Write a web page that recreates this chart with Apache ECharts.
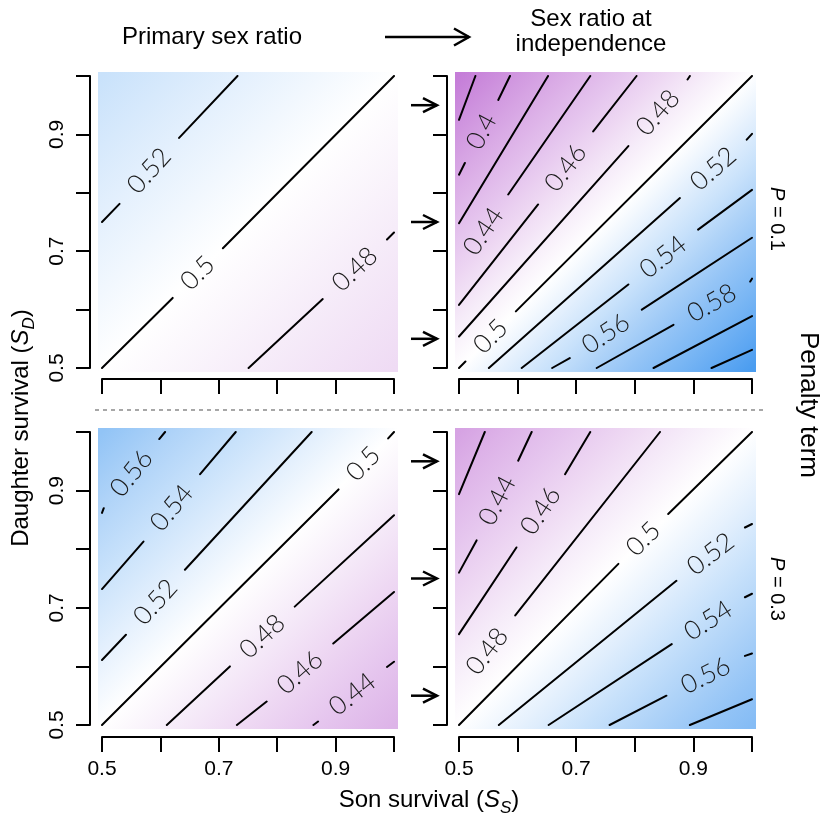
<!DOCTYPE html>
<html>
<head>
<meta charset="UTF-8">
<title>Sex ratio at independence</title>
<style>
    html,body{margin:0;padding:0;background:#fff;}
    #wrap{width:824px;height:818px;}
</style>
</head>
<body>
<div id="wrap"></div>
<script src="https://cdn.jsdelivr.net/npm/echarts@6/dist/echarts.min.js"></script>
<script>
    // contour levels, line ends [x1, y1, x2, y2] and label gaps [x1, y1, x2, y2] (null = no label)
    let levels1 = [0.52, 0.5, 0.48];
    let lines1 = [[0.5, 0.75, 0.732, 1.0], [0.5, 0.5, 1.0, 1.0], [0.751, 0.5, 1.0, 0.732]];
    let gaps1 = [[0.530, 0.781, 0.632, 0.894], [0.621, 0.620, 0.707, 0.705], [0.878, 0.618, 0.988, 0.720]];
    let corners1 = [0.54, 0.463];

    let levels2 = [0.38, 0.4, 0.42, 0.44, 0.46, 0.48, 0.5, 0.52, 0.54, 0.56, 0.58, 0.6, 0.62];
    let lines2 = [
        [0.5, 0.925, 0.528, 1.0], [0.5, 0.831, 0.587, 1.0], [0.5, 0.748, 0.652, 1.0],
        [0.5, 0.671, 0.724, 1.0], [0.5, 0.608, 0.803, 1.0], [0.5, 0.554, 0.894, 1.0],
        [0.5, 0.5, 1.0, 1.0], [0.551, 0.5, 1.0, 0.901], [0.607, 0.5, 1.0, 0.805],
        [0.659, 0.5, 1.0, 0.723], [0.735, 0.5, 1.0, 0.653], [0.832, 0.5, 1.0, 0.589],
        [0.931, 0.5, 1.0, 0.531]
    ];
    let gaps2 = [
        null, [0.510, 0.851, 0.567, 0.959], null,
        [0.5, 0.671, 0.584, 0.797], [0.635, 0.780, 0.729, 0.905], [0.789, 0.880, 0.890, 0.994],
        [0.511, 0.511, 0.597, 0.597], [0.877, 0.791, 0.991, 0.891], [0.789, 0.643, 0.908, 0.737],
        [0.689, 0.517, 0.812, 0.600], [0.866, 0.574, 0.997, 0.648], null, null
    ];
    let corners2 = [0.364, 0.634];

    let levels3 = [0.56, 0.54, 0.52, 0.5, 0.48, 0.46, 0.44];
    let lines3 = [
        [0.5, 0.862, 0.608, 1.0], [0.5, 0.732, 0.729, 1.0], [0.5, 0.611, 0.859, 1.0],
        [0.5, 0.5, 1.0, 1.0], [0.611, 0.5, 1.0, 0.858], [0.731, 0.5, 1.0, 0.727],
        [0.862, 0.5, 1.0, 0.608]
    ];
    let gaps3 = [
        [0.503, 0.870, 0.598, 0.988], [0.571, 0.813, 0.668, 0.928], [0.541, 0.654, 0.642, 0.765],
        [0.905, 0.902, 0.990, 0.989], [0.719, 0.600, 0.830, 0.702], [0.782, 0.540, 0.896, 0.639],
        [0.870, 0.506, 0.988, 0.599]
    ];
    let corners3 = [0.581, 0.422];

    let levels4 = [0.42, 0.44, 0.46, 0.48, 0.5, 0.52, 0.54, 0.56, 0.58];
    let lines4 = [
        [0.5, 0.894, 0.544, 1.0], [0.5, 0.760, 0.624, 1.0], [0.5, 0.655, 0.724, 1.0],
        [0.5, 0.564, 0.843, 1.0], [0.5, 0.5, 1.0, 1.0], [0.568, 0.5, 1.0, 0.843],
        [0.653, 0.5, 1.0, 0.724], [0.757, 0.5, 1.0, 0.622], [0.894, 0.5, 1.0, 0.544]
    ];
    let gaps4 = [
        null, [0.530, 0.815, 0.601, 0.951], [0.598, 0.803, 0.681, 0.928],
        [0.5, 0.564, 0.596, 0.687], [0.772, 0.775, 0.857, 0.860], [0.871, 0.746, 0.988, 0.837],
        [0.863, 0.638, 0.988, 0.718], [0.854, 0.550, 0.988, 0.618], null
    ];
    let corners4 = [0.404, 0.591];

    let arrowYs = [0.95, 0.75, 0.55];
    let tickLabels = ['0.5', '0.7', '0.9'];

    let panels = [
        {levels: levels1, lines: lines1, gaps: gaps1, corners: corners1},
        {levels: levels2, lines: lines2, gaps: gaps2, corners: corners2},
        {levels: levels3, lines: lines3, gaps: gaps3, corners: corners3},
        {levels: levels4, lines: lines4, gaps: gaps4, corners: corners4}
    ];

    let font = '"Liberation Sans", Arial, Helvetica, sans-serif';
    let labelFont = '300 26px Lato, "DejaVu Sans", sans-serif';

    function fillColor(v) {
        let d = Math.max(-1, Math.min(1, (v - 0.5) / 0.135));
        let c = d < 0 ? [197, 125, 216] : [74, 156, 240];
        let k = Math.abs(d);
        return 'rgb(' + c.map(ch => Math.round(255 + (ch - 255) * k)).join(',') + ')';
    }

    // 0 at the top-left corner, 1 at the bottom-right corner
    function diagPos(x, y) {
        return ((x - 0.5) / 0.5 + (1 - y) / 0.5) / 2;
    }

    let grids = [
        {left: 102, top: 76, width: 292, height: 292},
        {left: 459, top: 76, width: 293, height: 292},
        {left: 102, top: 432, width: 292, height: 293},
        {left: 459, top: 432, width: 293, height: 293}
    ];

    let xAxes = [], yAxes = [], series = [];

    panels.forEach((p, i) => {
        xAxes.push({
            gridIndex: i, type: 'value', min: 0.5, max: 1.0, interval: 0.1,
            offset: i < 2 ? 11 : 12,
            axisLine: {onZero: false, lineStyle: {color: '#000', width: 2}},
            axisTick: {length: 15, lineStyle: {color: '#000', width: 2}},
            axisLabel: {
                show: i >= 2, margin: 22, color: '#000', fontSize: 21, fontFamily: font,
                formatter: v => tickLabels.includes(v.toFixed(1)) ? v.toFixed(1) : ''
            },
            splitLine: {show: false}
        });
        yAxes.push({
            gridIndex: i, type: 'value', min: 0.5, max: 1.0, interval: 0.1,
            offset: 12,
            axisLine: {onZero: false, lineStyle: {color: '#000', width: 2}},
            axisTick: {length: 14, lineStyle: {color: '#000', width: 2}},
            axisLabel: {
                show: i % 2 === 0, rotate: 90, margin: 22, color: '#000', fontSize: 21, fontFamily: font,
                formatter: v => tickLabels.includes(v.toFixed(1)) ? v.toFixed(1) : ''
            },
            splitLine: {show: false}
        });

        // colour field behind the contours
        let stops = [{offset: 0, color: fillColor(p.corners[0])}];
        p.lines.forEach((l, j) => {
            stops.push({offset: diagPos((l[0] + l[2]) / 2, (l[1] + l[3]) / 2), color: fillColor(p.levels[j])});
        });
        stops.push({offset: 1, color: fillColor(p.corners[1])});
        stops.sort((a, b) => a.offset - b.offset);

        series.push({
            type: 'custom', xAxisIndex: i, yAxisIndex: i, clip: false, silent: true, z: 1,
            data: [[0.5, 1.0]],
            renderItem: function (params, api) {
                let a = api.coord([0.5, 1.0]), b = api.coord([1.0, 0.5]);
                return {
                    type: 'rect',
                    shape: {x: a[0] - 4, y: a[1] - 4, width: b[0] - a[0] + 8, height: b[1] - a[1] + 8},
                    style: {fill: new echarts.graphic.LinearGradient(a[0], a[1], b[0], b[1], stops, true)}
                };
            }
        });

        // contour lines, broken where the label sits
        let segs = [];
        p.lines.forEach((l, j) => {
            let g = p.gaps[j];
            if (!g) {
                segs.push({coords: [[l[0], l[1]], [l[2], l[3]]]});
                return;
            }
            if (g[0] !== l[0] || g[1] !== l[1]) segs.push({coords: [[l[0], l[1]], [g[0], g[1]]]});
            if (g[2] !== l[2] || g[3] !== l[3]) segs.push({coords: [[g[2], g[3]], [l[2], l[3]]]});
        });
        series.push({
            type: 'lines', coordinateSystem: 'cartesian2d', xAxisIndex: i, yAxisIndex: i, z: 2, silent: true,
            lineStyle: {color: '#000', width: 2, opacity: 1, cap: 'round'},
            data: segs
        });

        // contour labels
        let labs = [];
        p.gaps.forEach((g, j) => {
            if (g) labs.push([(g[0] + g[2]) / 2, (g[1] + g[3]) / 2, j]);
        });
        series.push({
            type: 'custom', xAxisIndex: i, yAxisIndex: i, clip: false, silent: true, z: 3,
            data: labs,
            renderItem: function (params, api) {
                let j = api.value(2);
                let g = p.gaps[j];
                let a = api.coord([g[0], g[1]]), b = api.coord([g[2], g[3]]);
                let c = api.coord([api.value(0), api.value(1)]);
                return {
                    type: 'text', x: c[0], y: c[1],
                    rotation: Math.atan2(a[1] - b[1], b[0] - a[0]),
                    style: {text: String(p.levels[j]), font: labelFont, fill: '#1a1a1a', align: 'center', verticalAlign: 'middle'}
                };
            }
        });

        if (i % 2 === 1) {
            series.push({
                type: 'custom', xAxisIndex: i, yAxisIndex: i, clip: false, silent: true, z: 3,
                data: arrowYs.map(y => [0.5, y]),
                renderItem: function (params, api) {
                    let c = api.coord([api.value(0), api.value(1)]);
                    let x0 = c[0] - 48, x1 = c[0] - 22, y = c[1];
                    let st = {stroke: '#000', lineWidth: 2.5, fill: null};
                    return {
                        type: 'group', children: [
                            {type: 'polyline', shape: {points: [[x0, y], [x1, y]]}, style: st},
                            {type: 'polyline', shape: {points: [[x1 - 14, y - 7], [x1, y], [x1 - 14, y + 7]]}, style: st}
                        ]
                    };
                }
            });
        }
    });

    // text made of pieces (italic symbol, lowered subscript), centred on x, y
    let measure = document.createElement('canvas').getContext('2d');
    function pieceLabel(parts, x, y, rotation) {
        let widths = parts.map(pt => {
            measure.font = pt[1];
            return measure.measureText(pt[0]).width;
        });
        let cx = -widths.reduce((a, b) => a + b, 0) / 2;
        let children = parts.map((pt, k) => {
            let el = {type: 'text', x: cx, y: pt[2], style: {text: pt[0], font: pt[1], fill: '#000', align: 'left', verticalAlign: 'middle'}};
            cx += widths[k];
            return el;
        });
        return {type: 'group', x: x, y: y, rotation: rotation || 0, children: children};
    }

    let f24 = '24px ' + font, i24 = 'italic 24px ' + font, i17 = 'italic 17px ' + font;
    let f20 = '20px ' + font, i20 = 'italic 20px ' + font;

    let graphic = [
        {type: 'text', x: 212, y: 37, style: {text: 'Primary sex ratio', font: f24, fill: '#000', align: 'center', verticalAlign: 'middle'}},
        {type: 'text', x: 591, y: 32, style: {text: 'Sex ratio at\nindependence', font: f24, lineHeight: 25, fill: '#000', align: 'center', verticalAlign: 'middle'}},
        {type: 'polyline', shape: {points: [[385, 37], [469, 37]]}, style: {stroke: '#000', lineWidth: 2.5, fill: null}},
        {type: 'polyline', shape: {points: [[454, 28.5], [469, 37], [454, 45.5]]}, style: {stroke: '#000', lineWidth: 2.5, fill: null}},
        {type: 'line', shape: {x1: 95, y1: 410, x2: 764, y2: 410}, style: {stroke: '#8a8a8a', lineWidth: 1.5, lineDash: [4, 4]}},
        pieceLabel([['Son survival (', f24, 0], ['S', i24, 0], ['S', i17, 8], [')', f24, 0]], 429, 800),
        pieceLabel([['Daughter survival (', f24, 0], ['S', i24, 0], ['D', i17, 8], [')', f24, 0]], 21, 428, Math.PI / 2),
        {type: 'text', x: 808, y: 405, rotation: -Math.PI / 2, style: {text: 'Penalty term', font: '26px ' + font, fill: '#000', align: 'center', verticalAlign: 'middle'}},
        pieceLabel([['P', i20, 0], [' = 0.1', f20, 0]], 777, 219, -Math.PI / 2),
        pieceLabel([['P', i20, 0], [' = 0.3', f20, 0]], 777, 589, -Math.PI / 2)
    ];

    let chart = echarts.init(document.getElementById('wrap'));
    chart.setOption({
        animation: false,
        backgroundColor: '#fff',
        grid: grids,
        xAxis: xAxes,
        yAxis: yAxes,
        graphic: graphic,
        series: series
    });
</script>
</body>
</html>
